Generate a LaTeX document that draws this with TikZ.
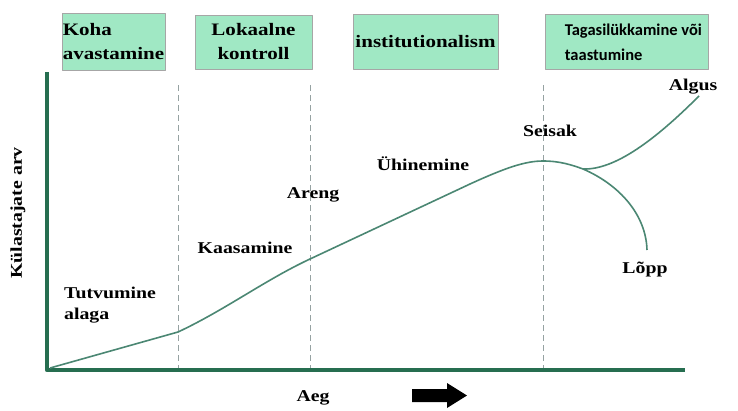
\documentclass[tikz,border=0pt]{standalone}
\usepackage{fontspec}
\setmainfont{Liberation Serif}[FakeStretch=1.2]
\newfontfamily\boxsans{Carlito}
\definecolor{boxfill}{RGB}{160,232,196}
\definecolor{axisgreen}{RGB}{38,110,80}
\definecolor{curvegreen}{RGB}{75,135,115}
\definecolor{guidegray}{RGB}{150,162,162}
\tikzset{
	phasebox/.style={draw=gray!70,fill=boxfill,line width=0.6pt,inner sep=0pt,font=\bfseries\fontsize{17.5}{24}\selectfont},
	lbl/.style={font=\bfseries\fontsize{16.5}{21}\selectfont,inner sep=0pt},
	axis/.style={axisgreen,line width=4.5pt,line cap=rect},
	guide/.style={guidegray,line width=1pt,dash pattern=on 6pt off 4pt},
	curve/.style={curvegreen,line width=1.6pt},
}
\begin{document}
\begin{tikzpicture}[x=1pt,y=-1pt,line cap=butt,line join=round]
	\useasboundingbox (0,0) rectangle (738,410);
	% faasid
	\node[phasebox,minimum width=103pt,minimum height=57pt,align=left] (koha) at (113.5,41.5) {Koha\\avastamine};
	\node[phasebox,minimum width=117pt,minimum height=54pt,align=center] (lok) at (253.5,42) {Lokaalne\\kontroll};
	\node[phasebox,minimum width=145pt,minimum height=55pt] (inst) at (425.5,41.5) {institutionalism};
	\node[phasebox,minimum width=163pt,minimum height=55pt] (taga) at (626.5,41.5) {};
	\node[anchor=west,align=left,inner sep=0pt,font=\boxsans\bfseries\fontsize{16.5}{25}\selectfont] (tagatxt) at ([xshift=20pt,yshift=-1pt]taga.west) {Tagasilükkamine või\\taastumine};
	
	% teljed
	\coordinate (O) at (47,370);
	\draw[axis] (47,74) -- (O) -- (683,370);
	\foreach \x in {178,310,543}{
		\draw[guide] (\x,85) -- (\x,368);
	}
	\node[lbl,rotate=90] (yl) at (18,213) {Külastajate arv};
	\node[lbl] (xl) at (313,398) {Aeg};
	\fill[black] (412,389) -- (447,389) -- (447,383) -- (467,395.5) -- (447,408) -- (447,402) -- (412,402) -- cycle;
	
	% kõver
	\coordinate (p0) at (50,368);
	\coordinate (p1) at (178,332);
	\coordinate (p2) at (310,259);
	\coordinate (top) at (543,161);
	\coordinate (split) at (583,169);
	\draw[curve] (p0) -- (p1) .. controls (225,310) and (265,280) .. (p2)
		-- (470,184) .. controls (505,168) and (525,161) .. (top)
		.. controls (560,161) and (572,165) .. (split);
	\draw[curve] (split) .. controls (615,170) and (655,140) .. (699,96);
	\draw[curve] (split) .. controls (620,185) and (646,215) .. (647,250);
	
	\node[lbl,align=left] (tutv) at (110,305) {Tutvumine\\alaga};
	\node[lbl] (kaas) at (245,248) {Kaasamine};
	\node[lbl] (areng) at (313,195) {Areng};
	\node[lbl] (uhi) at (423,164) {Ühinemine};
	\node[lbl] (seis) at (550,131) {Seisak};
	\node[lbl] (lopp) at (645,270) {Lõpp};
	\node[lbl] (algus) at (693,87) {Algus};
\end{tikzpicture}
\end{document}
